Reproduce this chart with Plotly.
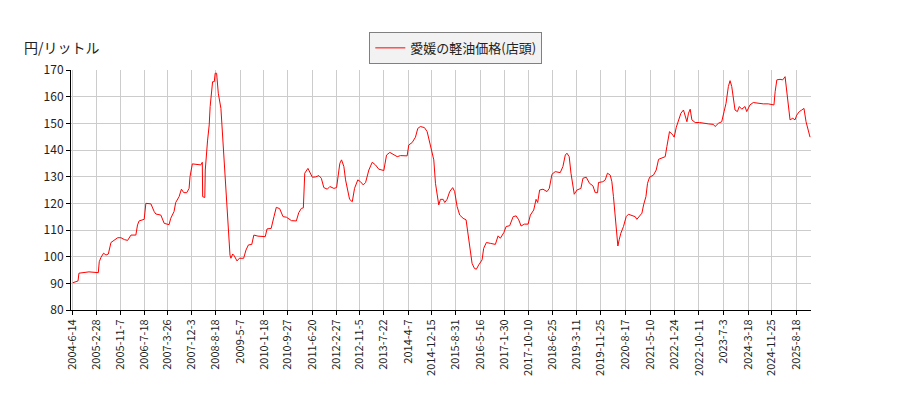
import pandas as pd
import plotly.graph_objects as go

# 愛媛の軽油価格(店頭) 円/リットル
dates = [
    "2004-06-14", "2004-08-10", "2004-08-20", "2004-10-30", "2004-12-05", "2005-03-15",
    "2005-03-25", "2005-04-12", "2005-05-10", "2005-06-05", "2005-06-30", "2005-07-28",
    "2005-09-02", "2005-10-08", "2005-11-12", "2005-12-18", "2006-01-22", "2006-02-27",
    "2006-04-20", "2006-05-08", "2006-05-25", "2006-07-18", "2006-08-05", "2006-09-28",
    "2006-11-02", "2006-11-20", "2007-01-12", "2007-02-17", "2007-04-10", "2007-04-28",
    "2007-06-02", "2007-06-20", "2007-07-26", "2007-08-20", "2007-09-14", "2007-10-16",
    "2007-11-10", "2007-11-20", "2007-12-15", "2008-03-15", "2008-03-30", "2008-04-03",
    "2008-04-26", "2008-05-01", "2008-05-25", "2008-06-12", "2008-06-22", "2008-07-18",
    "2008-08-05", "2008-08-15", "2008-08-30", "2008-09-17", "2008-10-15", "2008-11-02",
    "2008-11-20", "2008-12-08", "2009-01-01", "2009-01-20", "2009-01-30", "2009-02-18",
    "2009-03-07", "2009-04-05", "2009-04-30", "2009-06-15", "2009-07-10", "2009-08-05",
    "2009-09-10", "2009-10-02", "2009-11-15", "2009-12-20", "2010-02-01", "2010-02-20",
    "2010-04-05", "2010-05-05", "2010-05-30", "2010-07-05", "2010-08-10", "2010-09-15",
    "2010-11-08", "2010-12-30", "2011-01-25", "2011-02-22", "2011-03-15", "2011-03-30",
    "2011-05-03", "2011-06-19", "2011-07-24", "2011-08-28", "2011-09-23", "2011-10-20",
    "2011-11-26", "2011-12-23", "2012-02-04", "2012-03-04", "2012-03-18", "2012-04-08",
    "2012-04-26", "2012-05-21", "2012-06-08", "2012-06-26", "2012-07-21", "2012-08-19",
    "2012-09-12", "2012-10-17", "2012-11-15", "2012-12-14", "2013-01-08", "2013-02-12",
    "2013-03-20", "2013-04-24", "2013-05-29", "2013-07-22", "2013-08-20", "2013-09-24",
    "2013-11-05", "2013-12-12", "2014-01-16", "2014-03-28", "2014-04-15", "2014-05-21",
    "2014-06-25", "2014-07-20", "2014-08-17", "2014-09-29", "2014-10-28", "2014-11-25",
    "2014-12-20", "2015-01-07", "2015-01-25", "2015-02-12", "2015-03-01", "2015-03-19",
    "2015-04-17", "2015-05-04", "2015-05-29", "2015-06-26", "2015-07-28", "2015-08-18",
    "2015-09-13", "2015-10-11", "2015-11-16", "2015-12-18", "2016-01-09", "2016-02-02",
    "2016-02-20", "2016-03-16", "2016-04-06", "2016-05-01", "2016-06-06", "2016-06-23",
    "2016-07-22", "2016-09-02", "2016-10-26", "2016-11-24", "2016-12-18", "2017-01-24",
    "2017-02-18", "2017-03-28", "2017-05-04", "2017-06-05", "2017-07-03", "2017-07-28",
    "2017-09-01", "2017-10-11", "2017-11-04", "2017-12-10", "2018-01-04", "2018-01-21",
    "2018-02-11", "2018-03-19", "2018-05-01", "2018-05-25", "2018-06-23", "2018-07-28",
    "2018-09-19", "2018-10-18", "2018-11-12", "2018-11-30", "2018-12-24", "2019-01-12",
    "2019-02-02", "2019-02-16", "2019-03-17", "2019-04-28", "2019-05-20", "2019-06-24",
    "2019-07-29", "2019-09-03", "2019-09-28", "2019-10-23", "2019-11-02", "2019-12-19",
    "2020-01-13", "2020-02-06", "2020-03-06", "2020-03-24", "2020-04-10", "2020-04-29",
    "2020-05-17", "2020-05-27", "2020-06-10", "2020-06-28", "2020-07-26", "2020-08-24",
    "2020-09-17", "2020-10-24", "2020-11-28", "2020-12-16", "2021-01-14", "2021-02-08",
    "2021-02-26", "2021-03-23", "2021-04-09", "2021-05-01", "2021-06-12", "2021-07-11",
    "2021-08-05", "2021-09-10", "2021-10-15", "2021-11-02", "2021-11-30", "2022-01-05",
    "2022-01-19", "2022-02-10", "2022-03-06", "2022-04-01", "2022-04-28", "2022-05-17",
    "2022-06-04", "2022-06-21", "2022-07-09", "2022-07-27", "2022-08-31", "2022-10-16",
    "2022-11-28", "2023-01-19", "2023-03-14", "2023-04-01", "2023-05-06", "2023-06-11",
    "2023-07-06", "2023-07-27", "2023-08-21", "2023-09-08", "2023-09-26", "2023-10-13",
    "2023-10-31", "2023-11-25", "2023-12-16", "2024-01-11", "2024-02-15", "2024-03-04",
    "2024-04-08", "2024-05-13", "2024-07-06", "2024-08-28", "2024-10-20", "2024-11-26",
    "2024-12-20", "2025-01-02", "2025-01-20", "2025-02-23", "2025-03-24", "2025-04-18",
    "2025-05-06", "2025-05-23", "2025-06-10", "2025-07-09", "2025-08-02", "2025-08-21",
    "2025-09-17", "2025-10-13", "2025-11-06", "2025-11-28", "2025-12-22", "2026-01-10",
]
prices = [
    90.2, 90.9, 93.8, 94.0, 94.3, 94.0,
    98.1, 99.7, 101.3, 100.6, 101.0, 105.3,
    106.3, 107.1, 107.1, 106.4, 106.1, 108.1,
    108.1, 111.9, 113.4, 114.0, 120.0, 119.8,
    116.9, 116.0, 115.6, 112.5, 112.0, 114.4,
    116.9, 120.3, 122.5, 125.3, 124.0, 124.0,
    125.6, 130.0, 134.8, 134.4, 135.4, 122.5,
    122.2, 132.5, 143.4, 149.4, 156.3, 165.6,
    165.6, 168.8, 168.8, 161.3, 155.6, 145.0,
    136.9, 126.3, 110.0, 100.6, 99.4, 101.0,
    100.3, 98.4, 99.4, 99.4, 102.5, 104.4,
    104.6, 108.1, 107.7, 107.5, 107.5, 110.4,
    110.6, 115.0, 118.5, 118.0, 115.0, 114.8,
    113.5, 113.4, 116.5, 118.1, 118.3, 131.3,
    133.1, 129.8, 129.9, 130.4, 129.4, 125.9,
    125.3, 126.3, 125.6, 125.9, 130.6, 135.0,
    136.3, 133.8, 128.8, 125.6, 121.5, 120.6,
    125.6, 128.8, 128.1, 126.9, 127.8, 132.5,
    135.4, 134.4, 132.8, 132.3, 138.1, 139.1,
    138.4, 137.5, 137.9, 137.8, 141.9, 142.8,
    144.8, 148.1, 148.8, 148.4, 146.9, 142.8,
    140.0, 136.3, 127.5, 122.5, 119.4, 121.5,
    121.5, 120.3, 121.5, 124.4, 125.9, 124.4,
    118.8, 115.6, 114.4, 113.8, 108.1, 102.5,
    97.5, 95.6, 95.3, 96.9, 98.8, 103.1,
    105.3, 105.0, 104.6, 107.8, 106.9, 109.0,
    111.3, 111.6, 115.0, 115.3, 113.8, 111.5,
    112.2, 112.2, 115.6, 117.5, 121.5, 120.3,
    125.0, 125.3, 124.4, 125.6, 130.9, 131.9,
    131.5, 133.8, 138.1, 138.8, 137.5, 131.3,
    126.3, 123.4, 125.0, 125.6, 129.4, 129.8,
    127.5, 126.6, 124.0, 124.0, 127.8, 128.1,
    128.8, 131.3, 130.6, 128.1, 122.5, 113.8,
    107.5, 104.0, 106.3, 108.8, 111.3, 115.0,
    115.9, 115.3, 115.0, 114.0, 115.3, 116.3,
    119.4, 122.5, 127.5, 129.8, 130.6, 132.5,
    136.5, 136.9, 137.5, 141.3, 146.9, 145.6,
    144.8, 148.5, 150.9, 153.8, 155.0, 152.5,
    150.6, 153.8, 155.3, 151.3, 150.3, 150.3,
    150.0, 149.8, 149.6, 148.8, 150.0, 150.6,
    154.4, 157.5, 163.8, 166.0, 163.8, 158.8,
    155.0, 154.4, 156.3, 155.3, 156.3, 154.4,
    156.9, 157.8, 157.5, 157.3, 157.3, 156.9,
    156.9, 161.9, 166.3, 166.5, 166.3, 167.5,
    162.5, 157.5, 151.3, 151.9, 151.3, 153.1,
    154.4, 155.0, 155.6, 150.6, 147.5, 144.8,
]

tick_dates = [
    "2004-06-14", "2005-02-28", "2005-11-07", "2006-07-18", "2007-03-26", "2007-12-03",
    "2008-08-18", "2009-05-07", "2010-01-18", "2010-09-27", "2011-06-20", "2012-02-27",
    "2012-11-05", "2013-07-22", "2014-04-07", "2014-12-15", "2015-08-31", "2016-05-16",
    "2017-01-30", "2017-10-10", "2018-06-25", "2019-03-11", "2019-11-25", "2020-08-17",
    "2021-05-10", "2022-01-24", "2022-10-11", "2023-07-03", "2024-03-18", "2024-11-25",
    "2025-08-18",
]
tick_text = [f"{d.year}-{d.month}-{d.day}" for d in pd.to_datetime(tick_dates)]

fig = go.Figure()
fig.add_trace(go.Scatter(
    x=pd.to_datetime(dates), y=prices, mode="lines",
    name="愛媛の軽油価格(店頭)",
    line=dict(color="#ff0000", width=1),
))

# page body has an 8px margin, so the figure is a bit smaller than the window
font = "Noto Sans CJK JP, DejaVu Sans, sans-serif"
fig.update_layout(
    width=892, height=392,
    margin=dict(l=63, r=89, t=62, b=90),
    paper_bgcolor="white", plot_bgcolor="white",
    font=dict(family=font, size=11, color="#222222"),
    showlegend=True,
    legend=dict(
        x=0.52, y=1.092, xanchor="center", yanchor="middle",
        bgcolor="#f2f2f2", bordercolor="#808080", borderwidth=1,
        font=dict(size=13, color="#222222"),
    ),
    annotations=[dict(
        text="円/リットル", xref="paper", yref="paper",
        x=-0.066, y=1.096, xanchor="left", yanchor="middle",
        showarrow=False, font=dict(size=14, color="#222222"),
    )],
)
fig.update_xaxes(
    range=["2004-05-27", "2026-01-20"],
    tickvals=pd.to_datetime(tick_dates), ticktext=tick_text, tickangle=-90,
    showgrid=True, gridcolor="#cccccc", gridwidth=1,
    showline=True, linecolor="#000000", linewidth=1,
    ticks="outside", ticklen=4, tickcolor="#000000",
    tickfont=dict(size=11),
)
fig.update_yaxes(
    range=[80, 170], dtick=10,
    showgrid=True, gridcolor="#cccccc", gridwidth=1,
    showline=True, linecolor="#000000", linewidth=1,
    ticks="outside", ticklen=4, tickcolor="#000000",
    tickfont=dict(size=12), zeroline=False,
)

fig.write_html("out.html")
